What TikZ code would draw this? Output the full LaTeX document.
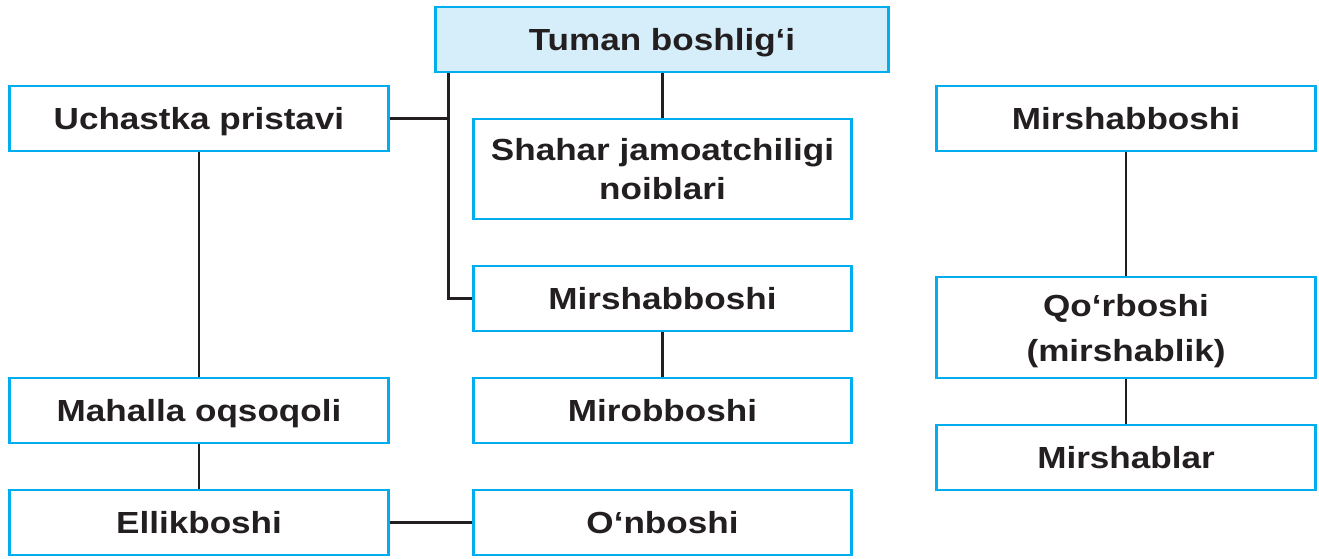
\documentclass[tikz,border=0pt]{standalone}
\usepackage{fontspec}
\setmainfont{Liberation Sans}[FakeStretch=1.15]
\usepackage{xcolor}
\usepackage{tikz}
\usetikzlibrary{positioning, calc}
\definecolor{boxline}{HTML}{00AEEF}
\definecolor{boxfill}{HTML}{D6EEFA}
\definecolor{ink}{HTML}{231F20}
\tikzset{every picture/.style={font issue=\bfseries},
         font issue/.style={execute at begin picture={#1\selectfont}}
        }

\begin{document}
\begin{tikzpicture}[x=0.025cm, y=-0.025cm,
  office/.style={draw=boxline, line width=2.1pt, fill=white, text=ink,
    minimum width=9.45cm, minimum height=1.625cm, align=center,
    inner sep=0pt, font=\fontsize{21.7}{25}\bfseries\selectfont},
  oneline/.style={text height=15.8pt, text depth=0pt},
  link/.style={draw=ink, line width=1.6pt}]

\useasboundingbox (0,0) rectangle (1319,558);

%left column
\node[office, oneline] (uch) at (199,118.5) {Uchastka pristavi};
\node[office, oneline] (mahalla) at (199,410.5) {Mahalla oqsoqoli};
\node[office, oneline] (ellik) at (199,522.5) {Ellikboshi};

%middle column
\node[office, oneline, fill=boxfill, minimum width=11.3cm] (top) at (662,39.5) {Tuman boshlig‘i};
\node[office, minimum width=9.425cm, minimum height=2.5cm, text depth=-3pt,
  font=\fontsize{21.7}{27.5}\bfseries\selectfont] (shahar) at (662.5,169) {Shahar jamoatchiligi\\noiblari};
\node[office, oneline, minimum width=9.425cm] (mirmid) at (662.5,298.5) {Mirshabboshi};
\node[office, oneline, minimum width=9.425cm] (mirob) at (662.5,410.5) {Mirobboshi};
\node[office, oneline, minimum width=9.425cm] (onb) at (662.5,522.5) {O‘nboshi};

%right column
\node[office, oneline] (mirR) at (1126,118.5) {Mirshabboshi};
\node[office, minimum height=2.525cm, text depth=0pt,
  font=\fontsize{21.7}{32}\bfseries\selectfont] (qor) at (1126,327.5) {Qo‘rboshi\\(mirshablik)};
\node[office, oneline] (mirsh) at (1126,457.5) {Mirshablar};

\coordinate (trunk) at ($(top.south west)+(14,0)$);

\draw[link] (trunk) |- (mirmid.west);
\draw[link] (uch.east) -- (uch.east -| trunk);
\draw[link] (top.south -| shahar.north) -- (shahar.north);
\draw[link] (uch.south) -- (mahalla.north);
\draw[link] (mahalla.south) -- (ellik.north);
\draw[link] (ellik.east) -- (onb.west);
\draw[link] (mirmid.south) -- (mirob.north);
\draw[link] (mirR.south) -- (qor.north);
\draw[link] (qor.south) -- (mirsh.north);

\end{tikzpicture}
\end{document}
